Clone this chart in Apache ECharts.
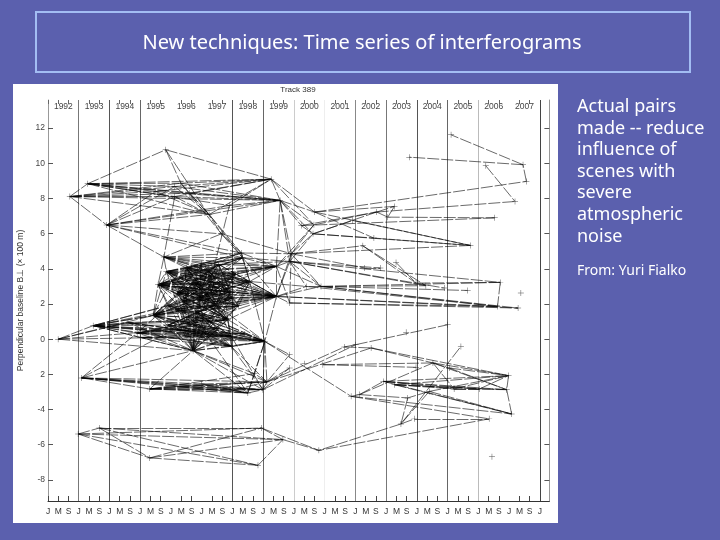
<!DOCTYPE html>
<html>
<head>
<meta charset="utf-8">
<style>html,body{margin:0;padding:0;background:#5b60ae}#main{width:720px;height:540px}</style>
<script src="https://cdn.jsdelivr.net/npm/echarts@6/dist/echarts.min.js"></script>
</head>
<body>
<div id="main"></div>
<script>
// acquisition date (decimal year) and perpendicular baseline (x 100 m)
const sceneYear = [
  1992.71,1993.29,1993.91,1995.83,1996.32,1996.12,1996.12,1997.24,1997.64,1999.26,1999.55,
  1995.77,1998.29,1998.33,1995.58,1995.85,1996.5,1996.2,1996.75,1996.9,1997.2,1997.3,1997.7,1997.55,1998.56,1999.43,1999.43,1999.86,1999.91,1999.86,
  1992.33,1993.47,1995.42,1996.39,1997.47,1997.85,1997.15,1997.96,1999.05,1996.72,1997.96,1994.9,1996.1,1995.9,
  1993.09,1995.31,1998.5,1998.99,1999.12,1998.72,1997.6,
  1992.98,1993.67,1995.31,1998.83,1998.94,1999.64,
  2000.67,2000.65,2000.24,2000.62,2002.69,2003.05,2006.53,2003.27,2007.19,2007.56,2007.45,2006.24,2003.75,2005.11,2005.74,2002.6,2001.91,2002.24,2002.29,2002.81,2003.32,2003.97,2004.29,2004.89,2005.65,2006.71,2007.38,2000.88,2000.4,2006.62,2007.29,
  2005.0,2003.65,2002.01,2001.64,2000.34,2002.51,2005.43,2004.52,2005.05,2006.98,2006.92,2007.08,2002.91,2003.27,2005.21,2004.4,2001.86,2002.13,2003.7,2003.92,2006.35,2003.48,2000.81,2006.44,2000.94,2003.97,1999.86,1999.86,2006.03,
  1997.0,1996.0,1996.45,1996.6,1997.0,1997.45,1997.95,1998.1,1998.0,1996.15,1996.8,1997.3,1996.5,1995.9,1998.2,1997.55,
  1995.5,1996.6,1997.9,
  1997.0,1998.0,1996.2,
  1994.6,1995.0,1998.4
];
const sceneBaseline = [
  8.11,8.84,6.49,10.77,8.87,8.68,8.11,7.09,5.99,9.10,7.89,
  4.67,4.90,4.63,3.10,3.85,4.05,2.6,3.2,2.3,3.9,2.6,3.1,4.25,3.28,2.43,4.14,4.42,4.86,2.06,
  0,0.77,1.35,2.15,1.96,1.11,0.26,0.16,-0.13,-0.65,-0.41,0.35,0.55,1.9,
  -2.2,-2.83,-3.06,-2.87,-2.43,-1.96,-2.75,
  -5.39,-5.05,-6.75,-7.17,-5.05,-5.71,
  7.23,6.5,6.46,5.99,7.23,6.94,6.90,7.55,7.83,8.97,9.92,9.86,10.35,11.62,5.33,5.75,6.75,5.31,4.05,4.05,4.36,3.19,3.04,2.91,2.77,3.23,2.63,3.0,3.0,1.86,1.77,
  0.82,0.39,-0.31,-0.44,-1.39,-0.5,-0.41,-1.35,-1.64,-2.07,-2.87,-4.25,-2.4,-2.59,-2.83,-2.97,-3.25,-3.15,-3.34,-4.53,-4.53,-4.82,-6.32,-6.69,-1.45,-1.6,-0.88,-1.64,-2.83,
  4.3,3.3,2.9,3.55,2.85,3.5,2.7,3.7,2.35,1.7,1.55,1.2,0.9,0.8,1.9,0.6,
  8.4,8.3,7.6,
  -2.55,-2.9,-2.7,
  0.95,0.1,0.3
];
// interferogram pairs: scene index, then the scenes it is paired with
const pairs = [
  [0,[1,2,4,5,6,7,10,133,134]],
  [1,[3,4,5,6,7,9,10,133,134,135]],
  [2,[5,6,7,8,10,11,12,13,133,135]],
  [3,[4,8,9]],
  [4,[7,8,9,10]],
  [5,[7,9,10]],
  [6,[7,9,10,11]],
  [7,[9,10,12,13]],
  [8,[11,12,13,28]],
  [9,[10,57,58]],
  [10,[26,27,28,57,58,59,60]],
  [11,[12,13,14,15,16,20,23,24,26,117,122,124]],
  [12,[13,24,26,28,117]],
  [13,[24,25,26,27,117,118,120,122]],
  [14,[12,13,15,16,17,18,19,20,21,22,23,24,25,26,34,35,118,119,120,121,122,123,124,125,131]],
  [15,[13,16,18,19,20,21,22,23,24,25,26,34,117,119,121,122,123,124,125]],
  [16,[12,13,17,18,19,20,21,22,23,24,25,33,34,117,119,121,122,123,124,125]],
  [17,[13,18,19,20,21,22,23,24,25,26,34,35,117,120,122,123,124,125,131]],
  [18,[19,20,21,22,23,24,25,34,35,117,122,123,124,125,131]],
  [19,[20,21,22,23,24,25,34,35,117,122,123,124,125,131]],
  [20,[21,22,23,24,25,26,35,121,123,125,131]],
  [21,[22,23,24,25,35,122,124,125,131]],
  [22,[23,24,25,26,34,35,117,124,125,131]],
  [23,[24,25,26,27,121,123,125]],
  [24,[25,26,35,38,85,122,125,131]],
  [25,[26,27,28,29,38,84,85,86,87,117,118,119,120,121,122,123,124,125,126,127,128,131]],
  [26,[27,28,29,84,118,120,122,124]],
  [27,[28,76,79,80,82,84,85,60]],
  [28,[29,58,60,71,74,75,84]],
  [29,[86,87]],
  [30,[31,32,37,39,42,139]],
  [31,[32,33,34,35,36,37,38,39,40,41,42,43,126,128,130,139,140]],
  [32,[14,15,17,18,19,21,33,34,35,36,37,38,39,40,42,43,118,119,121,123,125,127,128,131,132,24,25]],
  [33,[14,15,17,18,20,21,22,24,25,34,35,37,39,117,122,123,124,125,128,132]],
  [34,[18,21,22,24,25,35,37,38,39,118,119,120,124,126,130]],
  [35,[14,15,16,25,36,37,38,39,40,118,119,126,127,130]],
  [36,[14,17,19,37,38,40,46,126,127,131]],
  [37,[38,40,47,126,127,129,130]],
  [38,[40,46,47,48,49,104,114,126,127,128,129,130,132,141]],
  [39,[14,15,17,18,19,21,37,38,40,41,42,46,47,48,49,119,121,123,125,126,127,128,131,132,135]],
  [40,[47,48,38,126,127,129,130]],
  [41,[38,37,42,43,35,40,128,129,132]],
  [42,[38,37,40,35,127,128,132]],
  [43,[14,17,19,25,35,38,122,124,131]],
  [126,[127,128,131,132,123,125]],
  [127,[128,131,132,124,125]],
  [128,[131,123,124]],
  [129,[131,132,125,35]],
  [130,[131,132,125,34]],
  [44,[41,39,42,45,46,47,48,50,136,137]],
  [45,[39,46,47,48,49,50,136,137,138]],
  [46,[47,49,50]],
  [47,[48,50,90,115]],
  [48,[49,91,93,114,115]],
  [136,[46,47,48]],
  [137,[46,47,48]],
  [138,[46,47,48]],
  [51,[52,53,54,55,56]],
  [52,[53,54,55,56]],
  [53,[54,55,56]],
  [54,[56]],
  [55,[56,110]],
  [56,[110]],
  [57,[64,66,71,72]],
  [58,[61,26]],
  [59,[61,63,60]],
  [60,[61,71,72,73]],
  [61,[62,65,64]],
  [62,[63,64]],
  [66,[67]],
  [67,[69,70]],
  [68,[65]],
  [71,[72,73]],
  [74,[78,79]],
  [75,[76]],
  [77,[78]],
  [84,[79,81,82,85,86,87]],
  [85,[86]],
  [82,[86,78]],
  [90,[88,91]],
  [91,[93]],
  [93,[97,95]],
  [112,[113,95]],
  [104,[105,108,99]],
  [105,[95,100,106]],
  [100,[97,98,99,102,116]],
  [101,[97,98,99,102,116]],
  [103,[97,99,106,109]],
  [95,[96,97,98,102]],
  [96,[97,98]],
  [102,[97,98,116]],
  [116,[97]],
  [97,[98]],
  [98,[99]],
  [106,[109]],
  [109,[94,107,110]],
  [107,[108]],
  [108,[110]],
  [133,[9,10,7]],
  [134,[9,10,7]],
  [135,[9,10]],
  [139,[38,37,40,35,39,36]],
  [140,[38,37,39,40,36]],
  [141,[31,32,39,42,41]]
];

const years = [1993,1994,1995,1996,1997,1998,1999,2000,2001,2002,2003,2004,2005,2006,2007,2008];
const yearLabels = ['1992','1993','1994','1995','1996','1997','1998','1999','2000','2001','2002','2003','2004','2005','2006','2007'];
const monthLetters = ['J','M','S'];
const baselineTicks = [12,10,8,6,4,2,0,-2,-4,-6,-8];
const baselineLabels = ['12','10','8','6','4','2','0','2','-4','-6','-8'];
// the year rules come out at different greys in the scan, some vanish altogether
const yearRuleColors = ['#777','#555','#666','#fff','#fff','#555','#666','#ccc','#eee','#888','#777','#555','#666','#bbb','#fff','#444'];
const sideLines = ['Actual pairs','made -- reduce','influence of','scenes with','severe','atmospheric','noise'];

const MIN_Y = -9.2, MAX_Y = 13.6, MAX_X = 195.7;
const toMonths = y => (y - 1992) * 12;

const scenePoints = sceneYear.map((y, i) => [toMonths(y), sceneBaseline[i]]);
const pairLines = [];
pairs.forEach(([from, tos]) => {
  tos.forEach(to => pairLines.push({ coords: [scenePoints[from], scenePoints[to]] }));
});
const yearRules = years.map((y, i) => ({
  coords: [[toMonths(y), MIN_Y], [toMonths(y), MAX_Y]],
  lineStyle: { color: yearRuleColors[i], width: 1, opacity: 1 }
}));
const monthTicks = [];
for (let m = 0; m <= 192; m += 4) monthTicks.push(m);
const yearLabelAt = yearLabels.map((_, i) => i * 12 + 6);

const plotFont = '"Liberation Sans", Arial, sans-serif';
const slideFont = '"Noto Sans", sans-serif';

const myChart = echarts.init(document.getElementById('main'), null, { renderer: 'canvas' });
myChart.setOption({
  animation: false,
  backgroundColor: '#5b60ae',
  grid: { left: 48, top: 100, width: 501.4, height: 401 },
  xAxis: [
    {
      type: 'value', min: 0, max: MAX_X, interval: 4,
      axisLine: { onZero: false, lineStyle: { color: '#333', width: 1 } },
      axisTick: { inside: true, length: 5, lineStyle: { color: '#444' } },
      axisLabel: {
        margin: 6, fontSize: 8.5, fontFamily: plotFont, color: '#333', showMaxLabel: false,
        formatter: v => monthLetters[(v / 4) % 3]
      },
      splitLine: { show: false }
    },
    {
      type: 'value', min: 0, max: MAX_X, position: 'top',
      axisLine: { show: false, onZero: false },
      axisTick: { inside: true, length: 4, lineStyle: { color: '#666' }, customValues: monthTicks },
      axisLabel: {
        inside: true, margin: 2, fontSize: 8.5, fontFamily: plotFont, color: '#444',
        customValues: yearLabelAt,
        formatter: v => yearLabels[(v - 6) / 12]
      },
      splitLine: { show: false }
    }
  ],
  yAxis: [
    {
      type: 'value', min: MIN_Y, max: MAX_Y,
      name: 'Perpendicular baseline B\u22A5 (\u00D7 100 m)',
      nameLocation: 'middle', nameGap: 23, nameRotate: 90, nameMoveOverlap: false,
      nameTextStyle: { fontSize: 8.5, fontFamily: plotFont, color: '#333' },
      axisLine: { show: true, onZero: false, lineStyle: { color: '#999' } },
      axisTick: { show: true, inside: true, length: 5, lineStyle: { color: '#555' }, customValues: baselineTicks },
      axisLabel: {
        margin: 3, fontSize: 8.5, fontFamily: plotFont, color: '#444',
        customValues: baselineTicks,
        formatter: v => baselineLabels[baselineTicks.indexOf(v)]
      },
      splitLine: { show: false }
    },
    {
      type: 'value', min: MIN_Y, max: MAX_Y, position: 'right',
      axisLine: { show: true, onZero: false, lineStyle: { color: '#999' } },
      axisTick: { show: true, inside: true, length: 5, lineStyle: { color: '#555' }, customValues: baselineTicks },
      axisLabel: { show: false },
      splitLine: { show: false }
    }
  ],
  series: [
    {
      type: 'lines', coordinateSystem: 'cartesian2d', silent: true, z: 1,
      data: yearRules
    },
    {
      type: 'lines', coordinateSystem: 'cartesian2d', silent: true, z: 2,
      lineStyle: { color: '#000', width: 0.65, opacity: 0.9, type: [12, 2] },
      data: pairLines
    },
    {
      type: 'scatter', silent: true, z: 3,
      symbol: 'path://M4.6 0h.8v4.6h4.6v.8h-4.6v4.6h-.8v-4.6h-4.6v-.8h4.6z',
      symbolSize: 6,
      itemStyle: { color: '#222' },
      data: scenePoints
    }
  ],
  graphic: [
    { type: 'rect', z: -1, shape: { x: 13, y: 84, width: 545, height: 439 }, style: { fill: '#fff' } },
    { type: 'rect', z: -1, shape: { x: 36, y: 12, width: 654, height: 60 }, style: { fill: 'none', stroke: '#a3bdf3', lineWidth: 2 } },
    { type: 'text', x: 362, y: 43, style: { text: 'New techniques: Time series of interferograms', fill: '#fff', font: '20px ' + slideFont, textAlign: 'center', textVerticalAlign: 'middle' } },
    { type: 'text', x: 298, y: 90, style: { text: 'Track 389', fill: '#333', font: '8px ' + plotFont, textAlign: 'center', textVerticalAlign: 'middle' } },
    { type: 'text', x: 577, y: 96, style: { text: sideLines.join('\n'), fill: '#fff', font: '18px ' + slideFont, lineHeight: 21.6 } },
    { type: 'text', x: 577, y: 264, style: { text: 'From: Yuri Fialko', fill: '#fff', font: '14px ' + slideFont } }
  ]
});
</script>
</body>
</html>
